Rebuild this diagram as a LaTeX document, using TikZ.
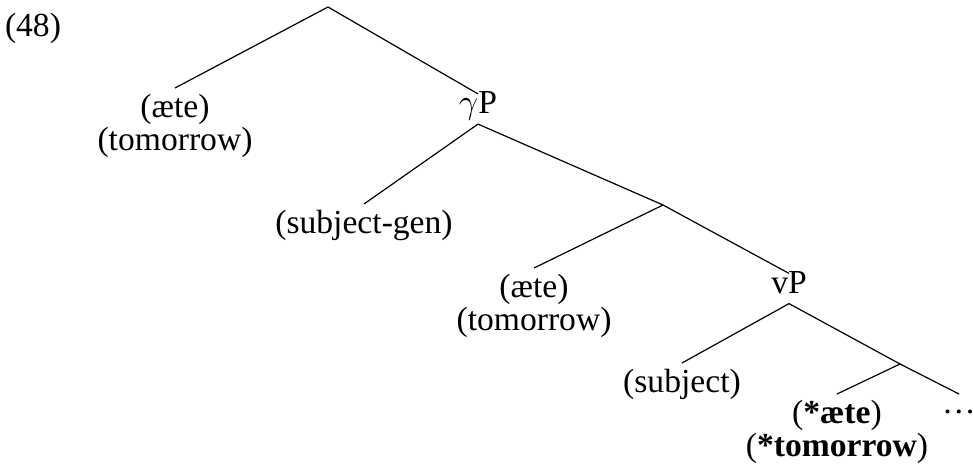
\documentclass[tikz,border=0pt]{standalone}
\usepackage{fontspec}
\setmainfont{Liberation Serif}
\begin{document}
\begin{tikzpicture}[x=0.5pt,y=-0.5pt,
  every node/.style={font=\fontsize{16.8pt}{16.5pt}\selectfont},
  cat/.style={inner sep=2.6pt, text height=0.7em, text depth=0.25em},
  leaf/.style={anchor=north, inner sep=3pt, align=center},
  edge/.style={line width=0.6pt}]
\useasboundingbox (0,0) rectangle (973,465);
\node[anchor=base] (ex) at (33,37) {(48)};
\coordinate (root) at (328,7);
\node[cat] (gP) at (478,109) {$\gamma$P};
\node[leaf] (a1) at (175,88) {(æte)\\(tomorrow)};
\node[leaf] (sg) at (364,204) {(subject-gen)};
\coordinate (n1) at (663,205);
\node[leaf] (a2) at (534,268) {(æte)\\(tomorrow)};
\node[cat] (vP) at (789,288.5) {vP};
\node[leaf] (su) at (682,363) {(subject)};
\coordinate (n2) at (900,364);
\node[leaf] (b) at (837,394) {(\textbf{*æte})\\(\textbf{*tomorrow})};
\node[cat, anchor=north] (dots) at (959,394) {\dots};
\draw[edge] (root) -- (a1.north);
\draw[edge] (root) -- (gP.north);
\draw[edge] (gP.south) -- (sg.north);
\draw[edge] (gP.south) -- (n1);
\draw[edge] (n1) -- (a2.north);
\draw[edge] (n1) -- (vP.north);
\draw[edge] (vP.south) -- (su.north);
\draw[edge] (vP.south) -- (n2);
\draw[edge] (n2) -- (b.north);
\draw[edge] (n2) -- (dots.north);
\end{tikzpicture}
\end{document}
